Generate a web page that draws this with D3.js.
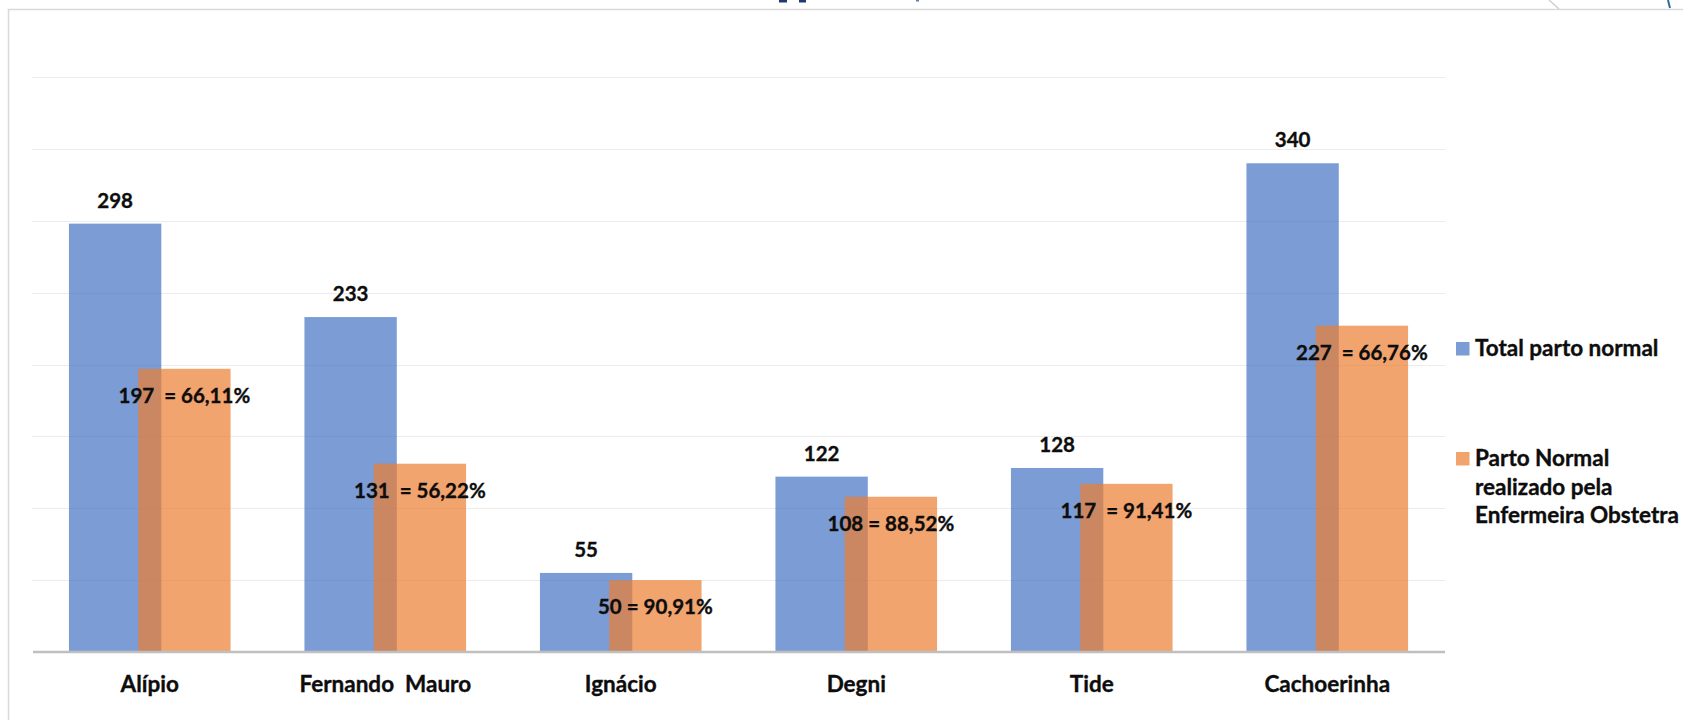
<!DOCTYPE html>
<html>
<head>
<meta charset="utf-8">
<script src="https://cdn.jsdelivr.net/npm/d3@7"></script>
<style>
  html, body { margin: 0; padding: 0; background: #fff; overflow: hidden; }
  text { font-family: Lato, "Open Sans", sans-serif; font-weight: 700; fill: #0d0d0d; stroke: #0d0d0d; stroke-width: 0.35px; }
</style>
</head>
<body>
<svg id="chart" width="1683" height="720"></svg>
<script>
// ---- data ----
const categories = ["Alípio", "Fernando  Mauro", "Ignácio", "Degni", "Tide", "Cachoerinha"];
const totalParto = [298, 233, 55, 122, 128, 340];
const partoEnfermeira = [197, 131, 50, 108, 117, 227];
const enfermeiraLabels = ["197  = 66,11%", "131  = 56,22%", "50 = 90,91%", "108 = 88,52%", "117  = 91,41%", "227  = 66,76%"];
const seriesNames = ["Total parto normal", "Parto Normal realizado pela Enfermeira Obstetra"];
const legendLines = [["Total parto normal"], ["Parto Normal", "realizado pela", "Enfermeira Obstetra"]];
const yTicks = [0, 50, 100, 150, 200, 250, 300, 350, 400];

const svg = d3.select("#chart");
const W = 1683, H = 720;

// frame / decorations
svg.append("rect").attr("x", 8.5).attr("y", 9.5).attr("width", W + 10).attr("height", H + 10)
  .attr("fill", "#fff").attr("stroke", "#d9d9d9").attr("stroke-width", 1.5);
svg.append("rect").attr("x", 779).attr("y", 0).attr("width", 8).attr("height", 2.5).attr("fill", "#1f3a6e");
svg.append("rect").attr("x", 799).attr("y", 0).attr("width", 7).attr("height", 2.5).attr("fill", "#1f3a6e");
svg.append("rect").attr("x", 916).attr("y", 0).attr("width", 3).attr("height", 1.5).attr("fill", "#5b7fb8");
svg.append("line").attr("x1", 1549).attr("y1", 0).attr("x2", 1559).attr("y2", 9)
  .attr("stroke", "#d0d0d0").attr("stroke-width", 1.5);
svg.append("line").attr("x1", 1668).attr("y1", 0).attr("x2", 1670).attr("y2", 8)
  .attr("stroke", "#2b6f95").attr("stroke-width", 2);

// scales
const x = d3.scaleBand().domain(categories).range([32, 1445]).paddingInner(0).paddingOuter(0);
const y = d3.scaleLinear().domain([0, 400]).range([652, 77]);

const band = x.bandwidth();
const barW = band / 2.55;          // gap width 80%, overlap 25%
const groupW = barW * 1.75;
const step = barW * 0.75;

// gridlines
svg.append("g").selectAll("line").data(yTicks.filter(d => d > 0)).join("line")
  .attr("x1", 32).attr("x2", 1445)
  .attr("y1", d => Math.round(y(d)) + 0.5).attr("y2", d => Math.round(y(d)) + 0.5)
  .attr("stroke", "#ececec").attr("stroke-width", 1.2);

const cx = c => x(c) + band / 2;

// bars
const blues = svg.append("g");
blues.selectAll("rect").data(categories).join("rect")
  .attr("x", c => cx(c) - groupW / 2)
  .attr("width", barW)
  .attr("y", (c, i) => y(totalParto[i]))
  .attr("height", (c, i) => y(0) - y(totalParto[i]))
  .attr("fill", "#4472C4").attr("fill-opacity", 0.7);

const oranges = svg.append("g");
oranges.selectAll("rect").data(categories).join("rect")
  .attr("x", c => cx(c) - groupW / 2 + step)
  .attr("width", barW)
  .attr("y", (c, i) => y(partoEnfermeira[i]))
  .attr("height", (c, i) => y(0) - y(partoEnfermeira[i]))
  .attr("fill", "#ED7D31").attr("fill-opacity", 0.7);

// baseline axis
const xAxis = d3.axisBottom(x).tickSize(0).tickPadding(0);
const ax = svg.append("g").attr("transform", `translate(0,${y(0)})`).call(xAxis);
ax.select(".domain").attr("d", "M33,0H1445").attr("stroke", "#bfbfbf").attr("stroke-width", 2.5);
ax.selectAll(".tick text").attr("y", 40).attr("dy", 0)
  .style("font-family", "Lato, sans-serif").style("font-weight", 700)
  .style("font-size", "22.5px").attr("fill", "#0d0d0d").style("white-space", "pre");

// data labels
svg.append("g").selectAll("text").data(categories).join("text")
  .attr("x", c => cx(c) - groupW / 2 + barW / 2)
  .attr("y", (c, i) => y(totalParto[i]) - 16)
  .attr("text-anchor", "middle").style("font-size", "20.5px")
  .text((c, i) => totalParto[i]);

svg.append("g").selectAll("text").data(categories).join("text")
  .attr("x", c => cx(c) - groupW / 2 + step + barW / 2)
  .attr("y", (c, i) => y(partoEnfermeira[i]) + 34)
  .attr("text-anchor", "middle").style("font-size", "20.5px").style("white-space", "pre")
  .text((c, i) => enfermeiraLabels[i]);

// legend
const legColors = ["#4472C4", "#ED7D31"];
const legTop = [342, 452];
legendLines.forEach((lines, i) => {
  svg.append("rect").attr("x", 1456).attr("y", legTop[i]).attr("width", 13.5).attr("height", 13.5)
    .attr("fill", legColors[i]).attr("fill-opacity", 0.7);
  const t = svg.append("text").attr("x", 1475).attr("y", legTop[i] + 14).style("font-size", "22.5px");
  lines.forEach((ln, j) => {
    t.append("tspan").attr("x", 1475).attr("dy", j === 0 ? 0 : 28.5).text(ln);
  });
});
</script>
</body>
</html>
